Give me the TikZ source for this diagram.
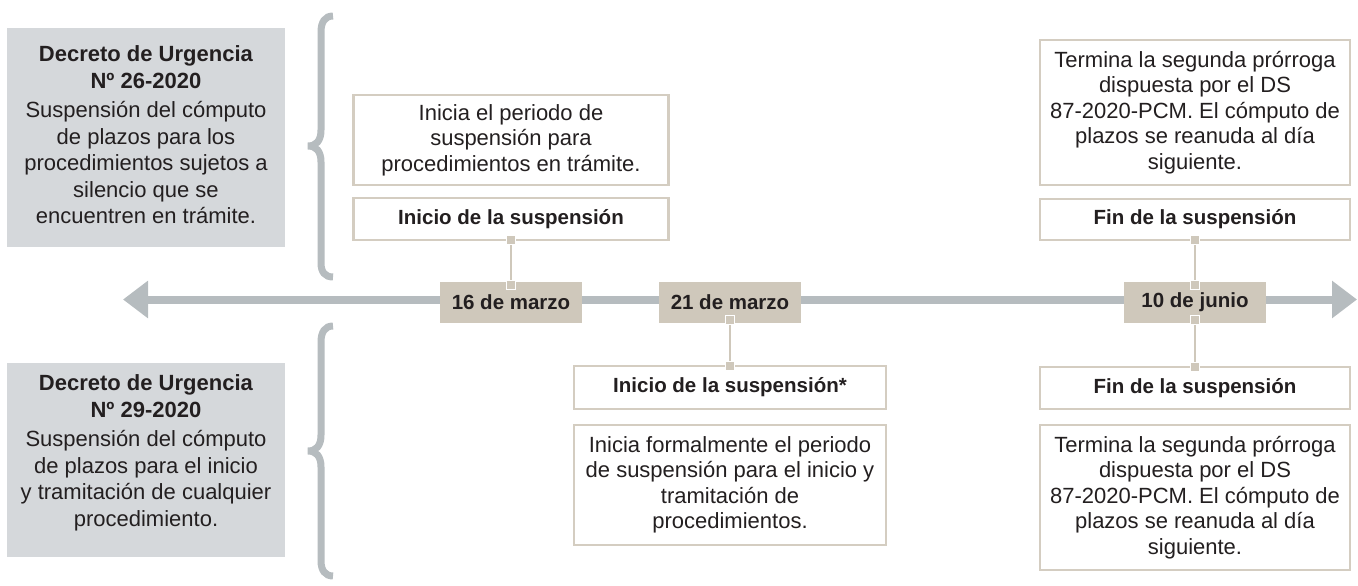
\documentclass[tikz,border=0pt]{standalone}
\usepackage{fontspec}
\setmainfont{Liberation Sans}
\usetikzlibrary{arrows.meta,calc}
\definecolor{graybox}{RGB}{213,216,219}
\definecolor{bracec}{RGB}{182,188,191}
\definecolor{beige}{RGB}{207,200,187}
\definecolor{bord}{RGB}{212,205,193}
\definecolor{ink}{RGB}{35,31,32}
\tikzset{bigtri/.tip={Triangle[length=25pt,width=36pt]}}
\begin{document}
\begin{tikzpicture}[x=1pt,y=-1pt,
  every node/.style={inner sep=0pt,outer sep=0pt,text=ink},
  bodytext/.style={align=center,font=\fontsize{22}{26.5}\selectfont},
  infobox/.style={draw=bord,line width=2.5pt,fill=white,align=center,
    font=\fontsize{22}{25.5}\selectfont},
  titlebox/.style={draw=bord,line width=2.5pt,fill=white,
    font=\bfseries\fontsize{20.5}{24}\selectfont},
  datebox/.style={fill=beige,minimum width=142pt,minimum height=41pt,
    font=\bfseries\fontsize{20.5}{24}\selectfont},
  decbox/.style={fill=graybox,minimum width=278pt},
  sq/.style={fill=beige,draw=white,line width=1.5pt,minimum size=9pt},
  conn/.style={draw=beige,line width=2pt},
  bracepath/.style={draw=bracec,line width=7pt}
]
\useasboundingbox (0,0) rectangle (1358,586);

% left decree boxes
\node[decbox,minimum height=219pt] (g1) at (146,137.5) {};
\node[bodytext] (g1t) at (146,135) {\textbf{Decreto de Urgencia}\\\textbf{Nº 26-2020}\\[3pt]Suspensión del cómputo\\de plazos para los\\procedimientos sujetos a\\silencio que se\\encuentren en trámite.};
\node[decbox,minimum height=194pt] (g2) at (146,460) {};
\node[bodytext] (g2t) at (146,453) {\textbf{Decreto de Urgencia}\\\textbf{Nº 29-2020}\\[3pt]Suspensión del cómputo\\de plazos para el inicio\\y tramitación de cualquier\\procedimiento.};

% braces
\draw[bracepath] (333,16) .. controls (325,16) and (321,22) .. (321,32) -- (321,130)
  .. controls (321,141) and (316,146) .. (308,146)
  .. controls (316,146) and (321,151) .. (321,162) -- (321,263)
  .. controls (321,272) and (325,277) .. (333,277);
\draw[bracepath] (333,326) .. controls (325,326) and (321,332) .. (321,342) -- (321,435)
  .. controls (321,446) and (316,451) .. (308,451)
  .. controls (316,451) and (321,456) .. (321,467) -- (321,561)
  .. controls (321,570) and (325,576) .. (333,576);

% timeline
\coordinate (tl) at (123,299.5);
\coordinate (tr) at (1357,299.5);
\draw[draw=bracec,fill=bracec,line width=8pt,bigtri-bigtri] (tl) -- (tr);

% dates
\node[datebox] (d16) at (511,302.5) {16 de marzo};
\node[datebox] (d21) at (730,302.5) {21 de marzo};
\node[datebox] (d10) at (1195,302.5) {10 de junio};

% upper boxes
\node[infobox,minimum width=315pt,minimum height=90pt] (i1) at (511,140) {Inicia el periodo de\\suspensión para\\procedimientos en trámite.};
\node[titlebox,minimum width=315pt,minimum height=42pt] (t1) at (511,219) {Inicio de la suspensión};
\node[infobox,minimum width=310pt,minimum height=145pt] (i3) at (1195,112.5) {Termina la segunda prórroga\\dispuesta por el DS\\87-2020-PCM. El cómputo de\\plazos se reanuda al día\\siguiente.};
\node[titlebox,minimum width=310pt,minimum height=41pt] (t3) at (1195,219.5) {Fin de la suspensión};

% lower boxes
\node[titlebox,minimum width=312pt,minimum height=43pt] (t2) at (730,387.5) {Inicio de la suspensión*};
\node[infobox,minimum width=312pt,minimum height=120pt] (i2) at (730,485) {Inicia formalmente el periodo\\de suspensión para el inicio y\\tramitación de\\procedimientos.};
\node[titlebox,minimum width=310pt,minimum height=42pt] (t4) at (1195,388) {Fin de la suspensión};
\node[infobox,minimum width=310pt,minimum height=145pt] (i4) at (1195,497.5) {Termina la segunda prórroga\\dispuesta por el DS\\87-2020-PCM. El cómputo de\\plazos se reanuda al día\\siguiente.};

% connectors
\draw[conn] (t1.south) -- (d16.north);
\node[sq] at (t1.south) {};
\node[sq] at ($(d16.north)+(0,3)$) {};
\draw[conn] (d21.south) -- (t2.north);
\node[sq] at ($(d21.south)+(0,-3)$) {};
\node[sq] at (t2.north) {};
\draw[conn] (t3.south) -- (d10.north);
\node[sq] at (t3.south) {};
\node[sq] at ($(d10.north)+(0,3)$) {};
\draw[conn] (d10.south) -- (t4.north);
\node[sq] at ($(d10.south)+(0,-3)$) {};
\node[sq] at (t4.north) {};
\end{tikzpicture}
\end{document}
